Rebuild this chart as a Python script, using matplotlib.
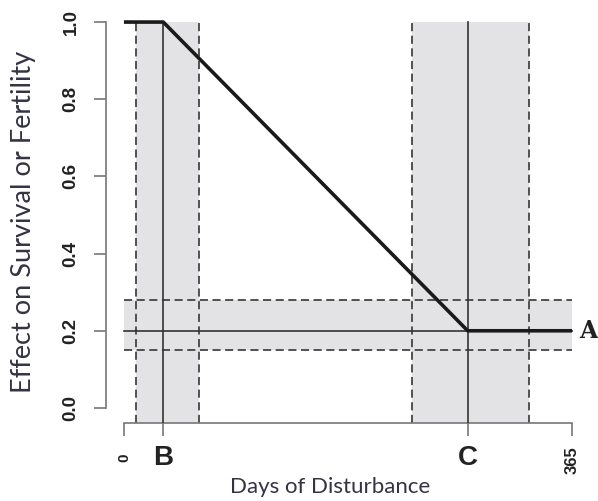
import numpy as np
import matplotlib

matplotlib.use('Agg')
import matplotlib.pyplot as plt

# threshold points (days) and effect levels
day_max = 365
b_day = 32
c_day = 280
b_band = [10, 61]
c_band = [235, 330]
a_level = 0.2
a_band = [0.15, 0.28]

curve_days = [0, b_day, c_day, day_max]
curve_effect = [1.0, 1.0, a_level, a_level]

y_ticks = [0.0, 0.2, 0.4, 0.6, 0.8, 1.0]
y_tick_labels = ['0.0', '0.2', '0.4', '0.6', '0.8', '1.0']

band_color = '#e3e3e5'
dash_color = '#444444'
text_color = '#333344'

fig = plt.figure(figsize=(5.98, 5.01), dpi=100)
ax = fig.add_axes([0.1773, 0.1549, 0.8093, 0.8319])

pad_x = 0.04 * day_max
xlim = (-pad_x, day_max + pad_x)
ylim = (-0.04, 1.04)
ax.set_xlim(*xlim)
ax.set_ylim(*ylim)

# shaded bands
for lo, hi in (b_band, c_band):
    ax.fill_between([lo, hi], ylim[0], 1.0, color=band_color, lw=0, zorder=1)
ax.fill_between([0, day_max], a_band[0], a_band[1], color=band_color, lw=0, zorder=1)

# dashed band edges
dash_kw = dict(color=dash_color, lw=1.3, dashes=(4.5, 2.5), zorder=2)
for x in b_band + c_band:
    ax.plot([x, x], [ylim[0], 1.0], **dash_kw)
for y in a_band:
    ax.plot([0, day_max], [y, y], **dash_kw)

# thin solid reference lines
ax.plot([0, day_max], [a_level, a_level], color='#333333', lw=1.2, zorder=3)
for x in (b_day, c_day):
    ax.plot([x, x], [ylim[0], 1.0], color='#333333', lw=1.2, zorder=3)

# main response curve
ax.plot(curve_days, curve_effect, color='#1a1a1a', lw=2.6, zorder=4,
        solid_capstyle='butt')

# axes in base R style
for side in ('top', 'right'):
    ax.spines[side].set_visible(False)
for side in ('left', 'bottom'):
    ax.spines[side].set_color('#777777')
    ax.spines[side].set_linewidth(1.2)
ax.spines['left'].set_bounds(0, 1)
ax.spines['bottom'].set_bounds(0, day_max)

ax.set_yticks(y_ticks)
ax.set_yticklabels(y_tick_labels, rotation=90, va='center',
                   fontsize=13.5, fontweight='bold', family='Liberation Sans',
                   color='#222222')
ax.set_xticks([0, b_day, c_day, day_max])
ax.set_xticklabels(['', '', '', ''])
ax.tick_params(axis='both', length=9, width=1.2, color='#777777')
ax.tick_params(axis='y', pad=10)

# x tick labels with mixed style
lab_y = ylim[0] - 0.09
ax.text(0, lab_y, '0', rotation=90, ha='center', va='center', fontsize=11,
        fontweight='bold', family='Liberation Sans', color='#222222')
ax.text(day_max, lab_y - 0.005, '365', rotation=90, ha='center', va='center',
        fontsize=12, fontweight='bold', family='Liberation Sans', color='#222222')
ax.text(b_day, lab_y, 'B', ha='center', va='center', fontsize=20,
        fontweight='bold', family='Liberation Sans', color='#222222')
ax.text(c_day, lab_y, 'C', ha='center', va='center', fontsize=20,
        fontweight='bold', family='Liberation Sans', color='#222222')
ax.text(day_max + 6, a_level, 'A', ha='left', va='center', fontsize=17,
        fontweight='bold', family='DejaVu Serif', color='#222222')

fig.text(0.552, 0.028, 'Days of Disturbance', ha='center', va='center',
         fontsize=16, family='Lato', color=text_color)
fig.text(0.040, 0.557, 'Effect on Survival or Fertility', rotation=90,
         ha='center', va='center', fontsize=19.5, family='Lato',
         color=text_color)

fig.savefig('out.png', dpi=100)
